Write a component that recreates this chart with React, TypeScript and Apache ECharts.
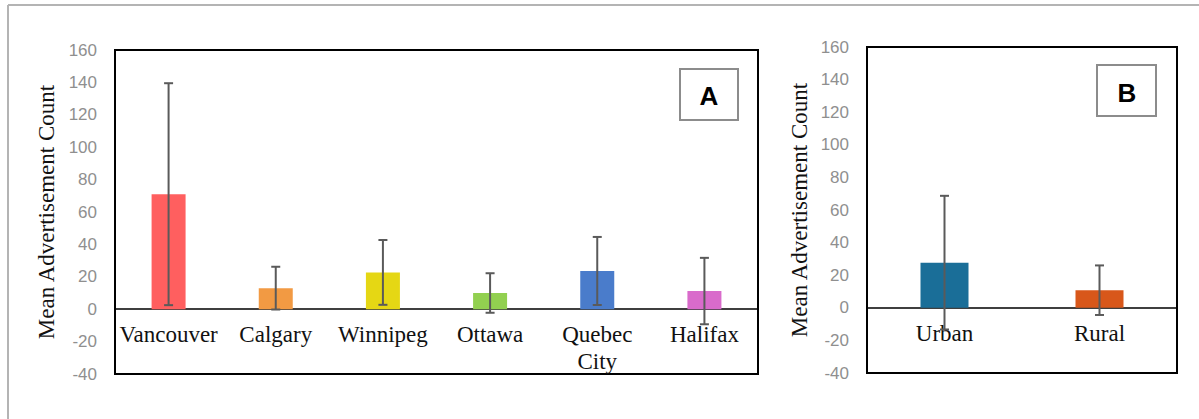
import React, { useEffect, useRef } from "react";
import * as echarts from "echarts";

// Panel A: mean advertisement count by city, with standard-deviation error bars
const cityNames = ["Vancouver", "Calgary", "Winnipeg", "Ottawa", "Quebec\nCity", "Halifax"];
const cityMeans = [71, 13, 22.7, 10, 23.6, 11.2];
const citySd = [68.5, 13.2, 20, 12.2, 21, 20.5];
const cityColors = ["#FF5F5F", "#F29A43", "#E5D714", "#92D050", "#4A7CCB", "#D96BCB"];

// Panel B: urban vs rural
const areaNames = ["Urban", "Rural"];
const areaMeans = [27.7, 10.8];
const areaSd = [41, 15.2];
const areaColors = ["#1A6E98", "#D8571A"];

const yTitle = "Mean Advertisement Count";
const yMin = -40;
const yMax = 160;
const yStep = 20;

const serif = "'Liberation Serif', 'Times New Roman', serif";
const sans = "'Liberation Sans', Arial, sans-serif";

const gridA = { left: 115, top: 50, right: 441, bottom: 45 };
const gridB = { left: 867, top: 47, right: 22, bottom: 46 };
const H = 419;

// distance from the bottom of a grid up to the value-zero line
function zeroLift(g: { top: number; bottom: number }) {
  const h = H - g.top - g.bottom;
  return (h * (0 - yMin)) / (yMax - yMin);
}

function errorRenderer(params: any, api: any) {
  const x = api.value(0);
  const lo = api.coord([x, api.value(1)]);
  const hi = api.coord([x, api.value(2)]);
  const cap = 4.5;
  const style = { stroke: "#5a5a5a", lineWidth: 2 };
  return {
    type: "group",
    children: [
      { type: "line", shape: { x1: hi[0], y1: hi[1], x2: lo[0], y2: lo[1] }, style },
      { type: "line", shape: { x1: hi[0] - cap, y1: hi[1], x2: hi[0] + cap, y2: hi[1] }, style },
      { type: "line", shape: { x1: lo[0] - cap, y1: lo[1], x2: lo[0] + cap, y2: lo[1] }, style },
    ],
  };
}

function valueAxis(gridIndex: number) {
  return {
    type: "value",
    gridIndex,
    min: yMin,
    max: yMax,
    interval: yStep,
    name: yTitle,
    nameLocation: "middle",
    nameRotate: 90,
    nameGap: 56,
    nameTextStyle: { fontFamily: serif, fontSize: 23, color: "#111" },
    axisLine: { show: false },
    axisTick: { show: false },
    splitLine: { show: false },
    axisLabel: { color: "#8f8f8f", fontFamily: sans, fontSize: 17, margin: 18 },
  };
}

function categoryAxis(gridIndex: number, data: string[], lift: number) {
  return {
    type: "category",
    gridIndex,
    data,
    position: "bottom",
    offset: -lift,
    axisLine: { show: true, onZero: false, lineStyle: { color: "#000", width: 1.5 } },
    axisTick: { show: false },
    axisLabel: {
      fontFamily: serif,
      fontSize: 23,
      color: "#111",
      margin: 12,
      lineHeight: 27,
      interval: 0,
    },
  };
}

export default function App() {
  const ref = useRef<HTMLDivElement>(null);

  useEffect(() => {
    if (!ref.current) return;
    const chart = echarts.init(ref.current, null, { renderer: "svg" });

    const gridStyle = {
      show: true,
      borderColor: "#000",
      borderWidth: 2,
      backgroundColor: "transparent",
      containLabel: false,
      outerBoundsMode: "none",
    };

    const option = {
      animation: false,
      backgroundColor: "#fff",
      grid: [
        { ...gridA, ...gridStyle },
        { ...gridB, ...gridStyle },
      ],
      xAxis: [categoryAxis(0, cityNames, zeroLift(gridA)), categoryAxis(1, areaNames, zeroLift(gridB))],
      yAxis: [valueAxis(0), valueAxis(1)],
      series: [
        {
          type: "bar",
          xAxisIndex: 0,
          yAxisIndex: 0,
          barWidth: 34,
          data: cityMeans.map((v, i) => ({ value: v, itemStyle: { color: cityColors[i] } })),
        },
        {
          type: "custom",
          xAxisIndex: 0,
          yAxisIndex: 0,
          z: 5,
          renderItem: errorRenderer,
          encode: { x: 0, y: [1, 2] },
          data: cityMeans.map((m, i) => [i, m - citySd[i], m + citySd[i]]),
        },
        {
          type: "bar",
          xAxisIndex: 1,
          yAxisIndex: 1,
          barWidth: 48,
          data: areaMeans.map((v, i) => ({ value: v, itemStyle: { color: areaColors[i] } })),
        },
        {
          type: "custom",
          xAxisIndex: 1,
          yAxisIndex: 1,
          z: 5,
          renderItem: errorRenderer,
          encode: { x: 0, y: [1, 2] },
          data: areaMeans.map((m, i) => [i, m - areaSd[i], m + areaSd[i]]),
        },
      ],
      graphic: [
        // outer frame (top and left edges)
        { type: "line", shape: { x1: 8, y1: 5, x2: 1199, y2: 5 }, style: { stroke: "#b4b4b4", lineWidth: 2 } },
        { type: "line", shape: { x1: 8, y1: 5, x2: 8, y2: 419 }, style: { stroke: "#b4b4b4", lineWidth: 2 } },
        // panel tags
        { type: "rect", shape: { x: 680, y: 69, width: 58, height: 51 }, style: { fill: "#fff", stroke: "#8c8c8c", lineWidth: 2 }, z: 10 },
        { type: "text", x: 709, y: 96, style: { text: "A", fontFamily: sans, fontWeight: "bold", fontSize: 26, fill: "#000", align: "center", verticalAlign: "middle" }, z: 11 },
        { type: "rect", shape: { x: 1097, y: 65, width: 59, height: 51 }, style: { fill: "#fff", stroke: "#8c8c8c", lineWidth: 2 }, z: 10 },
        { type: "text", x: 1127, y: 93, style: { text: "B", fontFamily: sans, fontWeight: "bold", fontSize: 26, fill: "#000", align: "center", verticalAlign: "middle" }, z: 11 },
      ],
    };

    chart.setOption(option as any);
    return () => chart.dispose();
  }, []);

  return (
    <div
      ref={ref}
      style={{ position: "fixed", left: 0, top: 0, width: 1199, height: 419, background: "#fff" }}
    />
  );
}
